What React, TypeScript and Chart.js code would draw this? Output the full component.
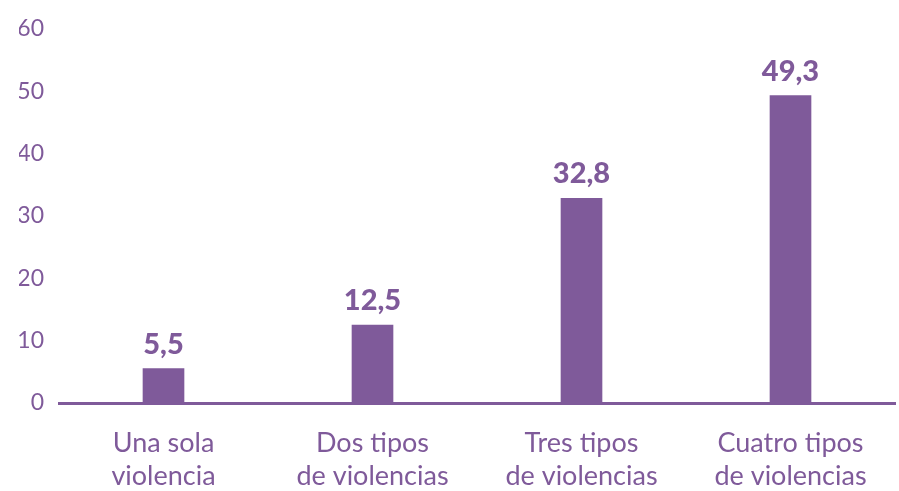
import React, { useEffect, useRef } from "react";
import { Chart, registerables } from "chart.js";

Chart.register(...registerables);

const categories: string[][] = [
  ["Una sola", "violencia"],
  ["Dos tipos", "de violencias"],
  ["Tres tipos", "de violencias"],
  ["Cuatro tipos", "de violencias"],
];
const values: number[] = [5.5, 12.5, 32.8, 49.3];
const yTicks: number[] = [0, 10, 20, 30, 40, 50, 60];

const PURPLE = "#7f5a9a";
const FONT = "Lato, 'Noto Sans', sans-serif";

const valueLabels = {
  id: "valueLabels",
  afterDatasetsDraw(chart: any) {
    const ctx = chart.ctx;
    const meta = chart.getDatasetMeta(0);
    ctx.save();
    ctx.fillStyle = PURPLE;
    ctx.font = `900 29px ${FONT}`;
    ctx.textAlign = "center";
    ctx.textBaseline = "alphabetic";
    meta.data.forEach((bar: any, i: number) => {
      const v = chart.data.datasets[0].data[i] as number;
      ctx.fillText(v.toFixed(1).replace(".", ","), bar.x, bar.y - 15);
    });
    ctx.restore();
  },
};

export default function App() {
  const ref = useRef<HTMLCanvasElement | null>(null);
  useEffect(() => {
    if (!ref.current) return;
    const chart = new Chart(ref.current, {
      type: "bar",
      data: {
        labels: categories,
        datasets: [
          {
            data: values,
            backgroundColor: PURPLE,
            barThickness: 41,
          },
        ],
      },
      options: {
        animation: false,
        responsive: true,
        maintainAspectRatio: false,
        layout: { padding: { left: 19, right: 4, top: 15, bottom: 0 } },
        plugins: {
          legend: { display: false },
          tooltip: { enabled: false },
        },
        scales: {
          x: {
            offset: true,
            grid: { display: false, drawTicks: false },
            border: { display: true, color: PURPLE, width: 3 },
            ticks: {
              color: PURPLE,
              font: { family: FONT, size: 27, lineHeight: 1.22 },
              padding: 24,
              maxRotation: 0,
              autoSkip: false,
            },
            afterFit: (axis: any) => {
              axis.height = 88;
            },
          },
          y: {
            min: 0,
            max: 60,
            afterBuildTicks: (axis: any) => {
              axis.ticks = yTicks.map((v) => ({ value: v }));
            },
            grid: { display: false, drawTicks: false },
            border: { display: false },
            ticks: {
              color: PURPLE,
              font: { family: FONT, size: 23 },
              padding: 15,
            },
            afterFit: (axis: any) => {
              axis.width = 40;
            },
          },
        },
      },
      plugins: [valueLabels],
    });
    return () => chart.destroy();
  }, []);
  return (
    <div style={{ position: "absolute", left: 0, top: 0, width: 899, height: 491, background: "#fff" }}>
      <canvas ref={ref} />
    </div>
  );
}
